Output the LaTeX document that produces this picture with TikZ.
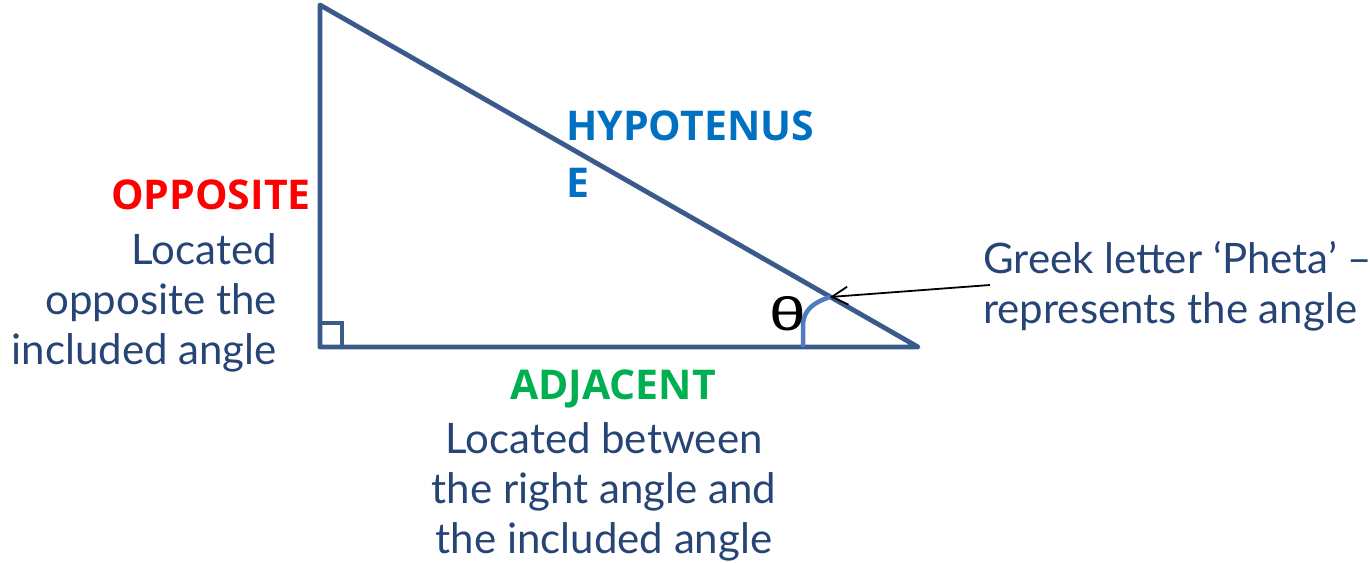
\documentclass[tikz,border=0pt]{standalone}
\usepackage{fontspec}
\setmainfont{Lato}
\newfontfamily\headfont{Open Sans}
\newfontfamily\symfont{Liberation Sans}
\usetikzlibrary{arrows.meta}
\definecolor{tri}{RGB}{59,90,140}
\definecolor{arcblue}{RGB}{79,124,192}
\definecolor{txt}{RGB}{38,68,118}
\definecolor{hyp}{RGB}{0,112,192}
\definecolor{opp}{RGB}{255,0,0}
\definecolor{adj}{RGB}{0,176,80}
\tikzset{
  side/.style={draw=tri, line width=4.8pt, line join=round, line cap=round},
  body/.style={text=txt, font=\fontsize{42}{50}\selectfont, inner sep=0pt, align=#1},
  body/.default=center,
  head/.style={font=\headfont\bfseries\fontsize{41}{57}\selectfont, inner sep=0pt},
}
\begin{document}
\begin{tikzpicture}[x=1pt,y=-1pt]
\useasboundingbox (0,0) rectangle (1370,562);
\coordinate (A) at (320,5);
\coordinate (B) at (320,347);
\coordinate (C) at (918,347);
\draw[side] (A) -- (B) -- (C) -- cycle;
\draw[draw=tri, line width=3.5pt] (320,323) -- (342,323) -- (342,347);
\coordinate (arcS) at (803,347);
\coordinate (arcE) at (830,297);
\draw[draw=arcblue, line width=4.5pt] (arcS) -- (803,326) .. controls (803,309) and (815,302) .. (arcE);
\node[anchor=base, font=\symfont\fontsize{47}{47}\selectfont, inner sep=0pt] (theta) at (788,330) {\scalebox{1.4}[1]{θ}};
% labels
\node[head, text=hyp, anchor=base west, align=left] (hypl) at (566,197) {HYPOTENUS\\E};
\node[head, text=opp, anchor=base east] (oppl) at (311,209) {OPPOSITE};
\node[body=right, anchor=base east] (oppt) at (277,364) {Located\\opposite the\\included angle};
\node[head, text=adj, anchor=base] (adjl) at (613,399) {ADJACENT};
\node[body=center, anchor=base] (adjt) at (604,553) {Located between\\the right angle and\\the included angle};
\node[body=left, anchor=base west] (grk) at (983,323) {Greek letter ‘Pheta’ –\\represents the angle};
\coordinate (arrS) at (990,285);
\draw[-{Straight Barb[length=16pt,width=18pt]}, line width=1.8pt] (arrS) -- (arcE);
\end{tikzpicture}
\end{document}
